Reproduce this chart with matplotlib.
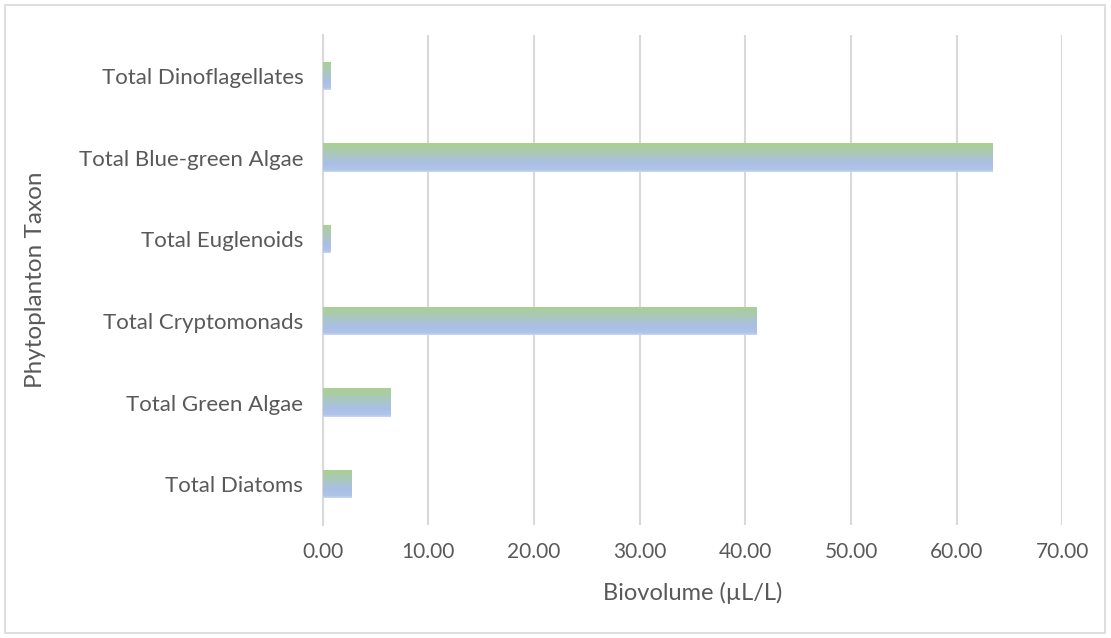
import matplotlib
matplotlib.use("Agg")
import matplotlib.pyplot as plt
import numpy as np
from matplotlib.colors import LinearSegmentedColormap
from matplotlib.patches import Rectangle

taxa = ["Total Diatoms", "Total Green Algae", "Total Cryptomonads",
        "Total Euglenoids", "Total Blue-green Algae", "Total Dinoflagellates"]
biovolume = [2.68, 6.37, 41.0, 0.69, 63.35, 0.69]
x_ticks = [0, 10, 20, 30, 40, 50, 60, 70]

text_color = "#595959"
plt.rcParams["font.family"] = ["Lato", "DejaVu Sans"]

fig = plt.figure(figsize=(11.11, 6.38), dpi=100)
ax = fig.add_axes([0.2905, 0.1771, 0.9562 - 0.2905, 0.9451 - 0.1771])

# chart border
fig.patches.append(Rectangle((5 / 1111, 5 / 638), 1100 / 1111, 628 / 638,
                             transform=fig.transFigure, fill=False,
                             edgecolor="#D9D9D9", linewidth=1.2))

grad = LinearSegmentedColormap.from_list(
    "bar_grad", [(0.0, "#A9D18E"), (0.7, "#AABFE6"), (0.92, "#B0C4E8"), (1.0, "#CAD7F0")])
gradient = np.linspace(0, 1, 256).reshape(-1, 1)

y = np.arange(len(taxa))
bar_h = 0.35
bars = ax.barh(y, biovolume, height=bar_h, color="none", edgecolor="none", zorder=3)
for b in bars:
    x0, y0 = b.get_x(), b.get_y()
    w, h = b.get_width(), b.get_height()
    # green at the top edge, blue toward the bottom
    im = ax.imshow(gradient, cmap=grad, aspect="auto",
                   extent=(x0, x0 + w, y0, y0 + h), origin="upper", zorder=3)
    im.set_clip_path(b)

ax.set_xlim(0, 70)
ax.set_ylim(-0.5, len(taxa) - 0.5)
ax.set_xticks(x_ticks)
ax.set_xticklabels([f"{v:.2f}" for v in x_ticks])
ax.set_yticks(y)
ax.set_yticklabels(taxa)
ax.grid(axis="x", color="#D9D9D9", linewidth=1.5, zorder=0)
ax.set_axisbelow(True)
for s in ["top", "right", "bottom"]:
    ax.spines[s].set_visible(False)
ax.spines["left"].set_color("#D9D9D9")
ax.spines["left"].set_linewidth(1.5)
ax.tick_params(length=0, colors=text_color)
ax.tick_params(axis="x", pad=12, labelsize=15)
ax.tick_params(axis="y", pad=14, labelsize=16)
ax.set_xlabel("Biovolume (µL/L)", fontsize=17, color=text_color, va="center")
ax.set_ylabel("Phytoplanton Taxon", fontsize=17.5, color=text_color, va="center")
ax.xaxis.set_label_coords(0.5, -0.139)
ax.yaxis.set_label_coords(-0.389, 0.5)

fig.savefig("out.png", dpi=100)
